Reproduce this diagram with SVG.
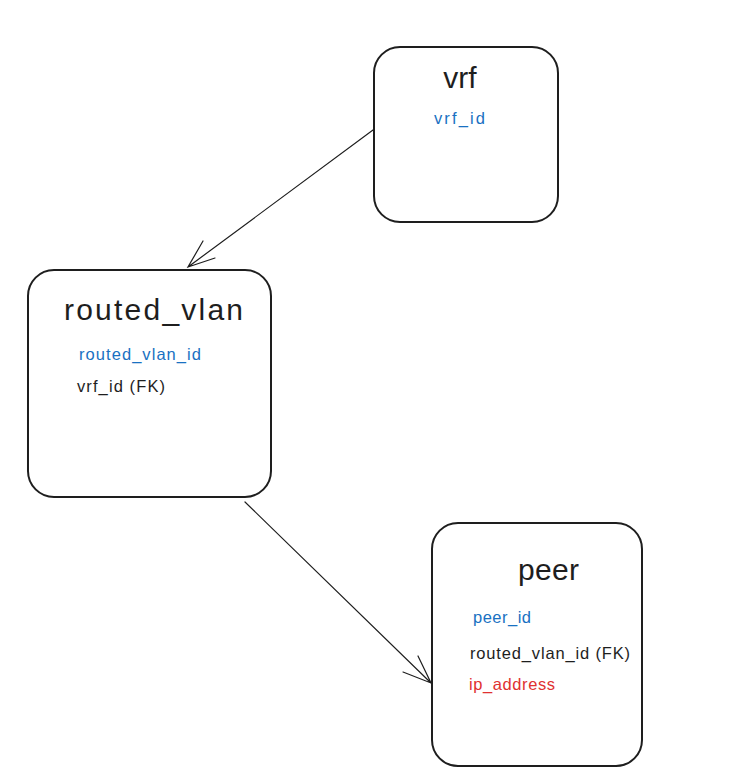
<svg xmlns="http://www.w3.org/2000/svg" width="737" height="784" viewBox="0 0 737 784">
<style>
.box{fill:#ffffff;stroke:#1e1e1e;stroke-width:2}
.title{font-family:"Liberation Sans",Arial,sans-serif;font-size:30px;fill:#1e1e1e}
.f{font-family:"Liberation Sans",Arial,sans-serif;font-size:16.5px}
.pk{fill:#1971c2}
.fk{fill:#1e1e1e}
.rd{fill:#e03131}
.conn{fill:none;stroke:#1e1e1e;stroke-width:1.2;stroke-linecap:round}
</style>
<rect width="737" height="784" fill="#ffffff"/>
<g id="vrf">
<rect class="box" x="374" y="47" width="184" height="175" rx="26"/>
<text class="title" x="460" y="88" text-anchor="middle" font-size="34">vrf</text>
<text class="f pk" x="434" y="124" textLength="51">vrf_id</text>
</g>
<g id="routed_vlan">
<rect class="box" x="28" y="270" width="243" height="227" rx="26"/>
<text class="title" x="64" y="320" textLength="179" font-size="32">routed_vlan</text>
<text class="f pk" x="79" y="360" textLength="122">routed_vlan_id</text>
<text class="f fk" x="77" y="392" textLength="88">vrf_id (FK)</text>
</g>
<g id="peer">
<rect class="box" x="432" y="523" width="210" height="243" rx="26"/>
<text class="title" x="518" y="580" textLength="61">peer</text>
<text class="f pk" x="473" y="623" textLength="58">peer_id</text>
<text class="f fk" x="470" y="659" textLength="160">routed_vlan_id (FK)</text>
<text class="f rd" x="469" y="690" textLength="86">ip_address</text>
</g>
<g id="connectors">
<path class="conn" d="M373 130 L188 267 M203 241 L188 267 L215 258"/>
<path class="conn" d="M245 502 L431 683 M418 656 L431 683 L403 672"/>
</g>
</svg>
